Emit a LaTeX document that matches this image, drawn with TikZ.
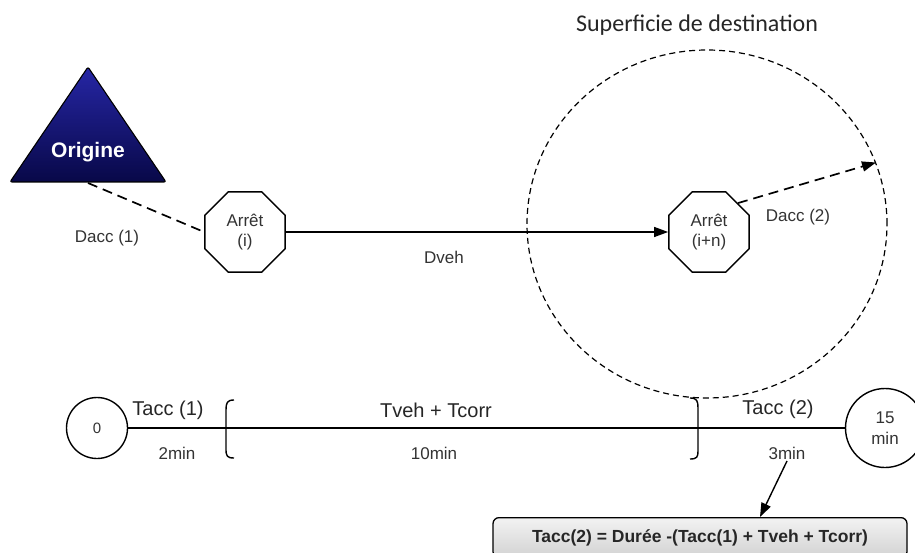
\documentclass[tikz,border=0pt]{standalone}
\usepackage{fontspec}
\setmainfont{Liberation Sans}
\newfontfamily\calib{Carlito}
\usetikzlibrary{shapes.geometric,arrows.meta}
\begin{document}
\begin{tikzpicture}[x=1pt,y=-1pt,
  stopbox/.style={draw,line width=1.4pt,regular polygon,regular polygon sides=8,minimum size=87pt,inner sep=0pt,align=center,text=black!80,font=\fontsize{17}{20}\selectfont},
  lbl/.style={text=black!80,font=\fontsize{17}{20}\selectfont,inner sep=0pt},
  biglbl/.style={text=black!85,font=\fontsize{20}{24}\selectfont,inner sep=0pt},
  tcirc/.style={draw,circle,line width=1.4pt,inner sep=0pt,align=center,text=black!80},
  dashline/.style={dash pattern=on 10pt off 6pt,line width=1.7pt},
  arr/.style={-{Triangle[length=14pt,width=10pt]}}
]
\useasboundingbox (0,0) rectangle (915,553);
\fill[white] (0,0) rectangle (915,553);

% title
\node[text=black!85,font=\calib\fontsize{24}{28}\selectfont,inner sep=0pt] (title) at (697,25) {Superficie de destination};

% destination area
\node[draw,ellipse,dash pattern=on 6pt off 4pt,line width=1.2pt,minimum width=360pt,minimum height=348pt,inner sep=0pt] (dest) at (707,224) {};

% origin triangle
\shadedraw[top color={rgb,255:red,38;green,38;blue,165},bottom color={rgb,255:red,8;green,8;blue,72},draw=black,line width=1.1pt,rounded corners=2pt]
  (10,182) -- (88,67) -- (166,182) -- cycle;
\node[text=white,font=\bfseries\fontsize{21}{25}\selectfont,inner sep=0pt] (orig) at (88,152) {Origine};
\coordinate (origb) at (88,183);

% stops
\node[stopbox] (a1) at (245,232) {Arrêt\\(i)};
\node[stopbox] (a2) at (709,232) {Arrêt\\(i+n)};

% connectors
\draw[dashline] (origb) -- (a1.west);
\draw[arr,line width=1.4pt] (a1.east) -- (a2.west);
\draw[dashline,arr] (a2.45) -- (dest.20);

\node[lbl] (dacc1) at (107,238) {Dacc (1)};
\node[lbl] (dveh) at (444,257) {Dveh};
\node[lbl] (dacc2) at (798,217) {Dacc (2)};

% timeline
\node[tcirc,minimum size=61pt,font=\fontsize{15}{18}\selectfont] (t0) at (97,428) {0};
\node[tcirc,minimum size=79pt,font=\fontsize{17}{21}\selectfont] (t15) at (885,428) {15\\min};
\draw[line width=1.4pt] (t0.east) -- (t15.west);

% brackets
\draw[line width=1.4pt] (234,400) .. controls (227,400) and (226,403) .. (226,410) -- (226,449) .. controls (226,456) and (227,458) .. (234,458);
\draw[line width=1.4pt] (690,398) .. controls (697,398) and (698,401) .. (698,408) -- (698,451) .. controls (698,457) and (697,459) .. (690,459);

\node[biglbl] (tacc1) at (168,410) {Tacc (1)};
\node[lbl] (m2) at (177,453) {2min};
\node[biglbl] (tveh) at (436,410) {Tveh + Tcorr};
\node[lbl] (m10) at (434,453) {10min};
\node[biglbl] (tacc2) at (778,409) {Tacc (2)};
\node[lbl] (m3) at (787,453) {3min};

% formula box
\node[draw,rounded corners=6pt,top color=gray!10,bottom color=gray!35,line width=1.3pt,minimum width=414pt,minimum height=40pt,anchor=north,inner sep=0pt,font=\bfseries\fontsize{17.5}{21}\selectfont,text=black!85] (eq) at (700,517) {Tacc(2) = Durée -(Tacc(1) + Tveh + Tcorr)};
\coordinate (m3s) at (787,461);
\coordinate (eqin) at (760,517);
\draw[arr,line width=1.4pt] (m3s) -- (eqin);
\end{tikzpicture}
\end{document}
